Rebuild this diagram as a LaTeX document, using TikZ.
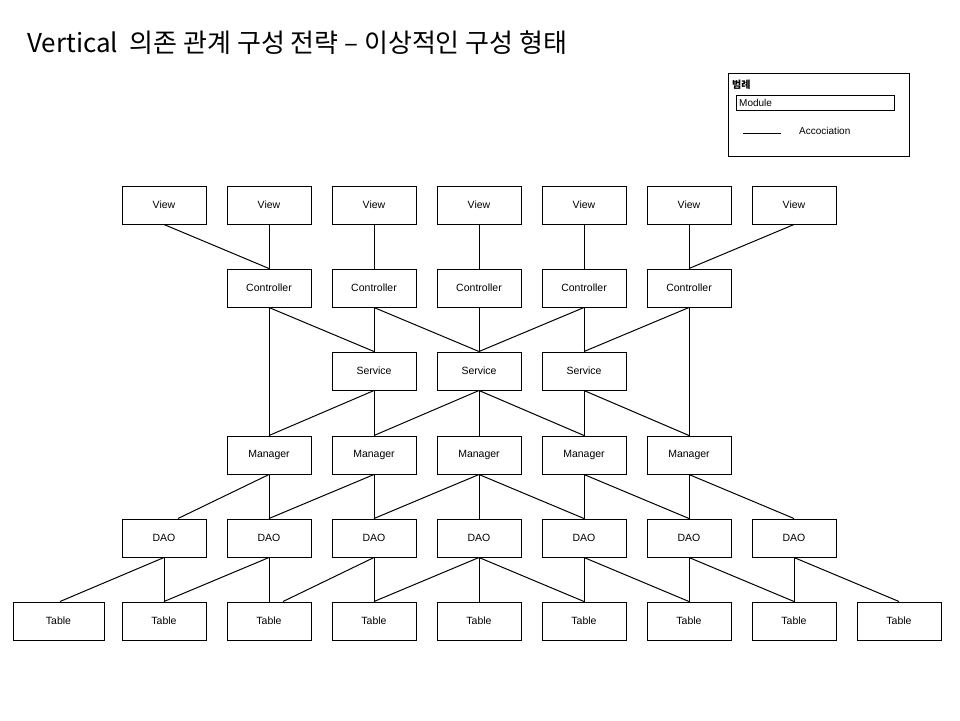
\documentclass[tikz,border=0pt]{standalone}
\usepackage{fontspec}
\setmainfont{Liberation Sans}
\newfontfamily\krfont{Noto Sans CJK KR}
\usetikzlibrary{calc}
\tikzset{
  box/.style={draw, line width=1pt, minimum width=84pt, minimum height=38pt, inner sep=0pt, font=\fontsize{10.5}{12}\selectfont},
  link/.style={line width=1pt},
}
\begin{document}
\begin{tikzpicture}[x=1pt,y=-1pt]
\useasboundingbox (0,0) rectangle (960,720);
% title
\node[anchor=base west, inner sep=0pt, font=\krfont\fontsize{26}{30}\selectfont] (title) at (27,52) {Vertical\ \ 의존 관계 구성 전략 – 이상적인 구성 형태};
% legend
\node[draw, line width=1pt, minimum width=181pt, minimum height=83pt, inner sep=0pt] (legend) at (818.5,114.5) {};
\node[anchor=base west, inner sep=0pt, font=\krfont\bfseries\fontsize{10}{12}\selectfont] (lgtitle) at (732,88) {범례};
\node[draw, line width=1pt, minimum width=158pt, minimum height=15pt, inner sep=0pt] (lgmod) at (815,102.5) {};
\node[anchor=west, inner sep=0pt, font=\fontsize{10}{11}\selectfont] (lgmodtext) at (739,103) {Module};
\coordinate (la) at (743,133);
\coordinate (lb) at (781,133);
\draw[link] (la) -- (lb);
\node[anchor=west, inner sep=0pt, font=\fontsize{10}{11}\selectfont] (lgassoc) at (799,130.5) {Accociation};
% rows
\foreach \k in {1,...,7}{
  \node[box] (V\k) at ({164+105*(\k-1)},205) {View};
  \node[box] (D\k) at ({164+105*(\k-1)},538) {DAO};
  \node[box] (T\k) at ({164+105*(\k-1)},621) {Table};
}
\foreach \k in {2,...,6}{
  \node[box] (C\k) at ({164+105*(\k-1)},288) {Controller};
  \node[box] (M\k) at ({164+105*(\k-1)},455) {Manager};
}
\foreach \k in {3,...,5}{
  \node[box] (S\k) at ({164+105*(\k-1)},371) {Service};
}
\node[box, minimum width=91pt] (T0) at (58.5,621) {Table};
\node[box] (T8) at (899,621) {Table};
% View - Controller
\draw[link] (V1.south) -- (C2.north);
\foreach \k in {2,...,6}{ \draw[link] (V\k.south) -- (C\k.north); }
\draw[link] (V7.south) -- (C6.north);
% Controller - Service / Manager
\draw[link] (C2.south) -- (S3.north);
\draw[link] (C2.south) -- (M2.north);
\draw[link] (C3.south) -- (S3.north);
\draw[link] (C3.south) -- (S4.north);
\draw[link] (C4.south) -- (S4.north);
\draw[link] (C5.south) -- (S4.north);
\draw[link] (C5.south) -- (S5.north);
\draw[link] (C6.south) -- (S5.north);
\draw[link] (C6.south) -- (M6.north);
% Service - Manager
\draw[link] (S3.south) -- (M2.north);
\draw[link] (S3.south) -- (M3.north);
\draw[link] (S4.south) -- (M3.north);
\draw[link] (S4.south) -- (M4.north);
\draw[link] (S4.south) -- (M5.north);
\draw[link] (S5.south) -- (M5.north);
\draw[link] (S5.south) -- (M6.north);
% Manager - DAO
\draw[link] (M2.south) -- ($(D1.north)+(14,0)$);
\draw[link] (M2.south) -- (D2.north);
\draw[link] (M3.south) -- (D2.north);
\draw[link] (M3.south) -- (D3.north);
\draw[link] (M4.south) -- (D3.north);
\draw[link] (M4.south) -- (D4.north);
\draw[link] (M4.south) -- (D5.north);
\draw[link] (M5.south) -- (D5.north);
\draw[link] (M5.south) -- (D6.north);
\draw[link] (M6.south) -- (D6.north);
\draw[link] (M6.south) -- (D7.north);
% DAO - Table
\draw[link] (D1.south) -- ($(T0.north)+(1.5,0)$);
\draw[link] (D1.south) -- (T1.north);
\draw[link] (D2.south) -- (T1.north);
\draw[link] (D2.south) -- (T2.north);
\draw[link] (D3.south) -- ($(T2.north)+(14,0)$);
\draw[link] (D3.south) -- (T3.north);
\draw[link] (D4.south) -- (T3.north);
\draw[link] (D4.south) -- (T4.north);
\draw[link] (D4.south) -- (T5.north);
\draw[link] (D5.south) -- (T5.north);
\draw[link] (D5.south) -- (T6.north);
\draw[link] (D6.south) -- (T6.north);
\draw[link] (D6.south) -- (T7.north);
\draw[link] (D7.south) -- (T7.north);
\draw[link] (D7.south) -- (T8.north);
\end{tikzpicture}
\end{document}
